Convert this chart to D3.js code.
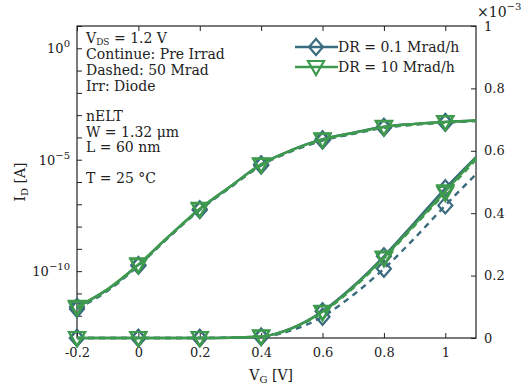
<!DOCTYPE html>
<html>
<head>
<meta charset="utf-8">
<script src="https://cdn.jsdelivr.net/npm/d3@7"></script>
<style>
  body { margin: 0; background: #fff; }
  text { font-family: "DejaVu Serif", "Liberation Serif", serif; fill: #222; }
</style>
</head>
<body>
<div id="chart"></div>
<script>
// gate voltage grid of the curves, markers every 0.2 V
const vg = [-0.2, -0.1, 0, 0.1, 0.2, 0.3, 0.4, 0.5, 0.6, 0.7, 0.8, 0.9, 1.0, 1.1];
const vgMarks = [-0.2, 0, 0.2, 0.4, 0.6, 0.8, 1.0];

// log10(ID)
const logPreDR01  = [-11.6, -10.82, -9.72, -8.43, -7.22, -6.2, -5.2, -4.56, -4.08, -3.79, -3.52, -3.39, -3.3, -3.24];
const logIrrDR01  = [-11.7, -10.88, -9.76, -8.47, -7.26, -6.24, -5.26, -4.62, -4.14, -3.84, -3.57, -3.43, -3.34, -3.27];
const logPreDR10  = [-11.6, -10.8, -9.7, -8.42, -7.2, -6.19, -5.21, -4.57, -4.09, -3.8, -3.53, -3.4, -3.31, -3.24];
const logIrrDR10  = [-11.65, -10.84, -9.73, -8.45, -7.23, -6.22, -5.23, -4.59, -4.11, -3.81, -3.55, -3.41, -3.32, -3.25];

// linear ID (x1e-3 A)
const linPreDR01  = [0, 0, 0, 0, 0, 0.001, 0.005, 0.032, 0.086, 0.166, 0.262, 0.37, 0.48, 0.58];
const linIrrDR01  = [0, 0, 0, 0, 0, 0.001, 0.003, 0.025, 0.068, 0.138, 0.222, 0.32, 0.425, 0.525];
const linPreDR10  = [0, 0, 0, 0, 0, 0.001, 0.005, 0.031, 0.084, 0.163, 0.258, 0.364, 0.47, 0.578];
const linIrrDR10  = [0, 0, 0, 0, 0, 0.001, 0.004, 0.03, 0.082, 0.16, 0.255, 0.36, 0.465, 0.572];

const xTicks = [-0.2, 0, 0.2, 0.4, 0.6, 0.8, 1];
const xTickLabels = ["-0.2", "0", "0.2", "0.4", "0.6", "0.8", "1"];
const yRightTicks = [0, 0.2, 0.4, 0.6, 0.8, 1];
const yRightLabels = ["0", "0.2", "0.4", "0.6", "0.8", "1"];
const yLeftLabelled = [0, -5, -10];
const infoLines = ["Continue: Pre Irrad", "Dashed: 50 Mrad", "Irr: Diode"];
const devLines = ["nELT", "W = 1.32 \u03bcm", "L = 60 nm"];

const blue = "#3a6b7e", green = "#3e9a4c";

const margin = {top: 26, right: 47, bottom: 49, left: 77},
    width = 523 - margin.left - margin.right,
    height = 387 - margin.top - margin.bottom;

const svg = d3.select("#chart")
    .append("svg")
    .attr("width", 523)
    .attr("height", 387);

const g = svg.append("g")
    .attr("transform", `translate(${margin.left},${margin.top})`);

const x = d3.scaleLinear().domain([-0.2, 1.1]).range([0, width]);
const yLog = d3.scaleLinear().domain([-13, 1]).range([height, 0]);   // in decades
const yLin = d3.scaleLinear().domain([0, 1]).range([height, 0]);

// axes (ticks pointing inward)
g.append("g")
    .attr("transform", `translate(0,${height})`)
    .call(d3.axisBottom(x).tickValues(xTicks).tickSizeInner(-5).tickSizeOuter(0).tickPadding(10)
        .tickFormat((d, i) => xTickLabels[i]))
    .call(a => a.select(".domain").remove());
g.append("g")
    .call(d3.axisTop(x).tickValues(xTicks).tickSizeInner(-5).tickSizeOuter(0).tickFormat(""))
    .call(a => a.select(".domain").remove());
g.append("g")
    .call(d3.axisLeft(yLog).tickValues(d3.range(-13, 2)).tickSizeInner(-5).tickSizeOuter(0).tickPadding(8)
        .tickFormat(() => ""))
    .call(a => a.select(".domain").remove());
g.append("g")
    .attr("transform", `translate(${width},0)`)
    .call(d3.axisRight(yLin).tickValues(yRightTicks).tickSizeInner(-5).tickSizeOuter(0).tickPadding(8)
        .tickFormat((d, i) => yRightLabels[i]))
    .call(a => a.select(".domain").remove());

g.selectAll(".tick text").style("font-family", "DejaVu Serif, Liberation Serif, serif").style("font-size", "13px").attr("fill", "#222");
g.selectAll(".tick line").attr("stroke", "#222");

// left decade labels 10^n
yLeftLabelled.forEach(function(p) {
    const t = g.append("text")
        .attr("x", -7)
        .attr("y", yLog(p) + 5)
        .attr("text-anchor", "end")
        .style("font-size", "13px");
    t.append("tspan").text("10");
    t.append("tspan").attr("dy", -6).style("font-size", "10px").text(p === 0 ? "0" : "\u2212" + (-p));
});

// right axis multiplier
const mult = g.append("text")
    .attr("x", width + 1)
    .attr("y", -9)
    .style("font-size", "14px");
mult.append("tspan").text("\u00d710");
mult.append("tspan").attr("dy", -7).style("font-size", "10px").text("\u22123");

// frame
g.append("rect")
    .attr("width", width).attr("height", height)
    .attr("fill", "none").attr("stroke", "#222").attr("stroke-width", 1.2);

// curves
const logSeries = [
    {v: logPreDR01, c: blue, dash: null, m: "diamond"},
    {v: logIrrDR01, c: blue, dash: "6,5", m: "diamond"},
    {v: logPreDR10, c: green, dash: null, m: "tri"},
    {v: logIrrDR10, c: green, dash: "6,5", m: "tri"}
];
const linSeries = [
    {v: linPreDR01, c: blue, dash: null, m: "diamond"},
    {v: linIrrDR01, c: blue, dash: "6,5", m: "diamond"},
    {v: linPreDR10, c: green, dash: null, m: "tri"},
    {v: linIrrDR10, c: green, dash: "6,5", m: "tri"}
];

const plot = g.append("g");

function marker(sel, kind, color) {
    if (kind === "diamond") {
        sel.append("path").attr("d", "M0,-8 L7,0 L0,8 L-7,0 Z");
    } else {
        sel.append("path").attr("d", "M-8,-6 L8,-6 L0,8 Z");
    }
    sel.select("path").attr("fill", "none").attr("stroke", color).attr("stroke-width", 2.2);
}

function drawSet(series, yScale) {
    series.forEach(function(s) {
        const pts = vg.map((v, i) => [v, s.v[i]]);
        plot.append("path")
            .datum(pts)
            .attr("fill", "none")
            .attr("stroke", s.c)
            .attr("stroke-width", 2.4)
            .attr("stroke-dasharray", s.dash)
            .attr("d", d3.line().curve(d3.curveMonotoneX)
                .x(d => x(d[0])).y(d => yScale(d[1])));
        vgMarks.forEach(function(m) {
            const i = vg.findIndex(v => Math.abs(v - m) < 1e-9);
            const mg = plot.append("g")
                .attr("transform", `translate(${x(m)},${yScale(s.v[i])})`);
            marker(mg, s.m, s.c);
        });
    });
}
drawSet(logSeries, yLog);
drawSet(linSeries, yLin);

// legend
const legend = g.append("g").attr("transform", `translate(${218},${21})`);
[{c: blue, m: "diamond", t: "DR = 0.1 Mrad/h"}, {c: green, m: "tri", t: "DR = 10 Mrad/h"}].forEach(function(d, i) {
    const row = legend.append("g").attr("transform", `translate(0,${i * 20})`);
    row.append("line").attr("x1", 0).attr("x2", 43).attr("stroke", d.c).attr("stroke-width", 2.4);
    const mg = row.append("g").attr("transform", "translate(21,0)");
    marker(mg, d.m, d.c);
    row.append("text").attr("x", 43).attr("y", 5).style("font-size", "14px").text(d.t);
});

// annotations
const note = g.append("g").style("font-size", "14px");
const vds = note.append("text").attr("x", 9).attr("y", 17);
vds.append("tspan").text("V");
vds.append("tspan").attr("dy", 2).style("font-size", "9px").text("DS");
vds.append("tspan").attr("dy", -2).text(" = 1.2 V");
infoLines.forEach((t, i) => note.append("text").attr("x", 9).attr("y", 32.5 + i * 16).text(t));
devLines.forEach((t, i) => note.append("text").attr("x", 9).attr("y", 95 + i * 15.5).text(t));
note.append("text").attr("x", 9).attr("y", 157).text("T = 25 \u00b0C");

// axis titles
const xl = svg.append("text")
    .attr("x", margin.left + x(0.4) + 10)
    .attr("y", 380)
    .attr("text-anchor", "middle")
    .style("font-size", "14px");
xl.append("tspan").text("V");
xl.append("tspan").attr("dy", 3).style("font-size", "10px").text("G");
xl.append("tspan").attr("dy", -3).text(" [V]");

const yl = svg.append("text")
    .attr("transform", `translate(25,${margin.top + height / 2}) rotate(-90)`)
    .attr("text-anchor", "middle")
    .style("font-size", "14px");
yl.append("tspan").text("I");
yl.append("tspan").attr("dy", 3).style("font-size", "10px").text("D");
yl.append("tspan").attr("dy", -3).text(" [A]");
</script>
</body>
</html>
